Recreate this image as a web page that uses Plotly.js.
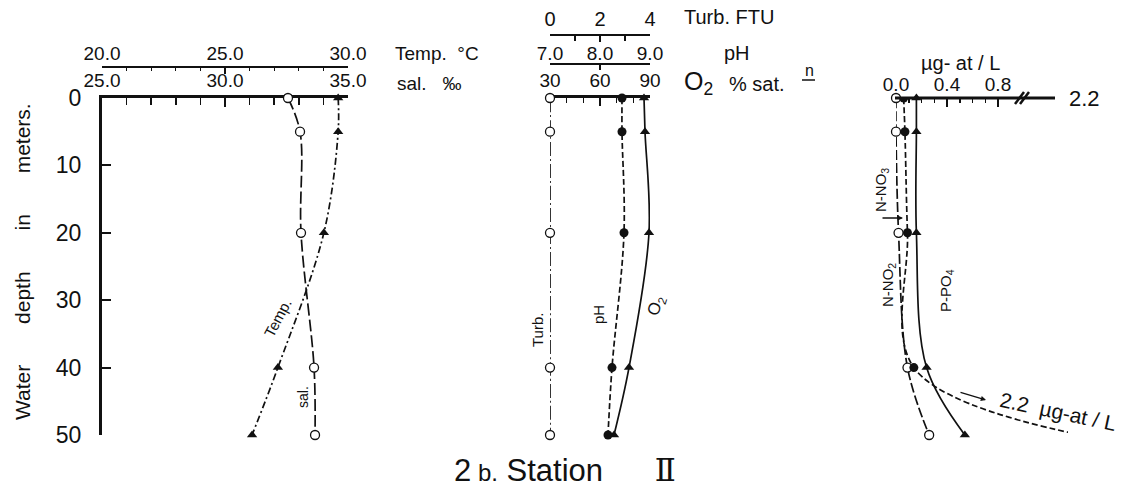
<!DOCTYPE html>
<html><head><meta charset="utf-8">
<script src="https://cdn.plot.ly/plotly-3.0.1.min.js"></script>
<style>html,body{margin:0;padding:0;background:#fff}</style>
</head><body><div id="chart" style="width:1136px;height:492px"></div>
<script>
// ---- data ----
const depth = [0, 5, 20, 40, 50];
const depthTicks = [0, 10, 20, 30, 40, 50];
const salinity = [32.56, 33.05, 33.09, 33.62, 33.66];      // open circles, ‰
const temperature = [29.6, 29.6, 29.02, 27.15, 26.1];      // triangles, °C
const turbidity = [0, 0, 0, 0, 0];                          // open circles, FTU
const pH = [8.44, 8.44, 8.48, 8.24, 8.16];                  // filled dots
const oxygenSat = [86.4, 87.0, 89.4, 77.4, 68.4];           // triangles, % sat.
const nitrite = [0.0, 0.0, 0.02, 0.09, 0.26];               // N-NO2, open circles
const nitrate = [0.06, 0.07, 0.09, 0.14, 2.2];              // N-NO3, filled dots
const phosphate = [0.16, 0.16, 0.16, 0.24, 0.54];           // P-PO4, triangles
const salTicks = [25, 30, 35];
const tempTicks = [20, 25, 30];
const turbTicks = [0, 2, 4];
const pHTicks = [7, 8, 9];
const o2Ticks = [30, 60, 90];
const nutTicks = [0, 0.4, 0.8];

// broken nutrient axis: values above 1.0 are compressed beyond the break
const BREAK = 1.0, BREAK_K = 0.375;
const brk = v => v <= BREAK ? v : BREAK + (v - BREAK) * BREAK_K;

const W = 1136, H = 492;
const fx = p => p / W, fy = p => 1 - p / H;
const INK = '#111';
const FONT = 'Liberation Sans, Arial, sans-serif';
const AX = 98;

const openM = {symbol: 'circle', size: 9, color: '#fff', line: {color: INK, width: 1.3}};
const dotM = {symbol: 'circle', size: 9, color: INK, line: {width: 0}};
const triM = {symbol: 'triangle-up', size: 9, color: INK, line: {width: 0}};

function tr(x, xa, marker, dash, extra) {
  return Object.assign({
    type: 'scatter', mode: 'lines+markers', x: x, y: depth, xaxis: xa, yaxis: 'y',
    marker: marker, line: {color: INK, width: 1.7, dash: dash, shape: 'spline', smoothing: 1},
    cliponaxis: false, hoverinfo: 'skip'
  }, extra || {});
}

const traces = [
  tr(salinity, 'x', openM, '12px,4px'),
  tr(temperature, 'x2', triM, '7px,3px,2px,3px'),
  tr(turbidity, 'x5', openM, '14px,3px,2px,3px'),
  tr(pH, 'x4', dotM, '6px,3px'),
  tr(oxygenSat, 'x3', triM, 'solid'),
  tr(nitrite, 'x6', openM, '10px,3px'),
  tr(nitrate.map(brk), 'x6', dotM, '6px,3px', {cliponaxis: true}),
  tr(phosphate, 'x6', triM, 'solid')
];

const base = {showgrid: false, zeroline: false, fixedrange: true, color: INK,
  tickcolor: INK, linecolor: INK, tickfont: {family: FONT, size: 19, color: INK}};

const d1 = [fx(102), fx(348)], d2 = [fx(550), fx(650)], d3 = [fx(896), fx(1068)];

const layout = {
  width: W, height: H, margin: {l: 0, r: 0, t: 0, b: 0},
  paper_bgcolor: '#fff', plot_bgcolor: 'rgba(0,0,0,0)', showlegend: false,
  font: {family: FONT, color: INK},
  yaxis: Object.assign({}, base, {domain: [fy(435), fy(AX)], range: [50, 0], anchor: 'x',
    showline: true, linewidth: 3, ticks: 'inside', ticklen: 9, tickwidth: 2,
    tickmode: 'array', tickvals: depthTicks, tickfont: {family: FONT, size: 23, color: INK},
    ticklabelstandoff: 13, layer: 'below traces'}),
  xaxis: Object.assign({}, base, {domain: d1, range: [25, 35], anchor: 'y', side: 'top',
    showline: true, linewidth: 3, ticks: 'inside', ticklen: 9, tickwidth: 2,
    tickmode: 'array', tickvals: salTicks, tickformat: '.1f',
    minor: {dtick: 1, tick0: 25, ticks: 'inside', ticklen: 7, tickwidth: 1.5, tickcolor: INK},
    layer: 'below traces'}),
  xaxis2: Object.assign({}, base, {domain: d1, range: [20, 30], overlaying: 'x', anchor: 'free',
    position: fy(67), side: 'top', showline: true, linewidth: 2, ticks: 'inside', ticklen: 6, tickwidth: 1.5,
    tickmode: 'array', tickvals: tempTicks, tickformat: '.1f', ticklabelstandoff: -2,
    minor: {dtick: 1, tick0: 20, ticks: 'inside', ticklen: 3, tickwidth: 1, tickcolor: INK}}),
  xaxis3: Object.assign({}, base, {domain: d2, range: [30, 90], anchor: 'y', side: 'top',
    showline: true, linewidth: 3, ticks: 'inside', ticklen: 8, tickwidth: 2,
    tickmode: 'array', tickvals: o2Ticks,
    minor: {dtick: 10, tick0: 30, ticks: 'inside', ticklen: 5, tickwidth: 1.5, tickcolor: INK},
    layer: 'below traces'}),
  xaxis4: Object.assign({}, base, {domain: d2, range: [7, 9], overlaying: 'x3', anchor: 'free',
    position: fy(64), side: 'top', showline: true, linewidth: 2, ticks: 'inside', ticklen: 5, tickwidth: 1.5,
    tickmode: 'array', tickvals: pHTicks, tickformat: '.1f', ticklabelstandoff: -5}),
  xaxis5: Object.assign({}, base, {domain: d2, range: [0, 4], overlaying: 'x3', anchor: 'free',
    position: fy(35), side: 'top', showline: true, linewidth: 2, ticks: 'inside', ticklen: 6, tickwidth: 1.5,
    tickmode: 'array', tickvals: turbTicks, tickfont: {family: FONT, size: 20, color: INK},
    minor: {dtick: 1, tick0: 0, ticks: 'inside', ticklen: 5, tickwidth: 1.5, tickcolor: INK}}),
  xaxis6: Object.assign({}, base, {domain: d3, range: [0, 172 / 127.5], anchor: 'y', side: 'top',
    showline: false, ticks: 'inside', ticklen: 9, tickwidth: 2,
    tickmode: 'array', tickvals: nutTicks, tickformat: '.1f', ticklabelstandoff: 2,
    minor: {tickmode: 'array', tickvals: [0.1, 0.2, 0.3, 0.5, 0.6, 0.7], ticks: 'inside', ticklen: 5, tickwidth: 1.5, tickcolor: INK}}),
  shapes: [
    {type: 'line', xref: 'paper', yref: 'paper', x0: fx(895), x1: fx(1055), y0: fy(AX), y1: fy(AX), line: {color: INK, width: 3}},
    {type: 'line', xref: 'paper', yref: 'paper', x0: fx(1015), x1: fx(1024), y0: fy(104), y1: fy(92), line: {color: INK, width: 2.5}},
    {type: 'line', xref: 'paper', yref: 'paper', x0: fx(1020), x1: fx(1029), y0: fy(104), y1: fy(92), line: {color: INK, width: 2.5}},
    {type: 'line', xref: 'paper', yref: 'paper', x0: fx(802), x1: fx(815), y0: fy(80), y1: fy(80), line: {color: INK, width: 1.5}}
  ],
  annotations: []
};

function ann(text, x, y, opts) {
  layout.annotations.push(Object.assign({
    text: text, x: fx(x), y: fy(y), xref: 'paper', yref: 'paper', showarrow: false,
    xanchor: 'center', yanchor: 'middle', font: {family: FONT, size: 19, color: INK}
  }, opts || {}));
}
const NB = '\u00a0';
const sp = n => NB.repeat(n);
// headers
ann('Temp.' + sp(2) + '°C', 393, 54, {xanchor: 'left'});
ann('sal.' + sp(3) + '‰', 395, 83, {xanchor: 'left'});
ann('Turb.' + NB + 'FTU', 682, 17, {xanchor: 'left', font: {family: FONT, size: 20, color: INK}});
ann('pH', 722, 53, {xanchor: 'left', font: {family: FONT, size: 20, color: INK}});
ann('O<sub>2</sub>', 682, 83, {xanchor: 'left', font: {family: FONT, size: 25, color: INK}});
ann('%' + NB + 'sat.', 727, 84, {xanchor: 'left', font: {family: FONT, size: 20, color: INK}});
ann('n', 809, 70, {font: {family: FONT, size: 16, color: INK}});
ann('µg-' + NB + 'at' + NB + '/' + NB + 'L', 960, 63, {font: {family: FONT, size: 20, color: INK}});
ann('2.2', 1067, 99, {xanchor: 'left', font: {family: FONT, size: 22, color: INK}});
// curve labels
ann('Temp.', 277, 318, {textangle: -62, font: {family: FONT, size: 15, color: INK}});
ann('sal.', 303, 397, {textangle: -90, font: {family: FONT, size: 14, color: INK}});
ann('Turb.', 537, 330, {textangle: -90, font: {family: FONT, size: 15, color: INK}});
ann('pH', 598, 315, {textangle: -90, font: {family: FONT, size: 15, color: INK}});
ann('O<sub>2</sub>', 657, 306, {textangle: -72, font: {family: FONT, size: 17, color: INK}});
ann('N-NO<sub>3</sub>', 881, 190, {textangle: -90, font: {family: FONT, size: 15, color: INK}});
ann('N-NO<sub>2</sub>', 888, 285, {textangle: -90, font: {family: FONT, size: 15, color: INK}});
ann('P-PO<sub>4</sub>', 946, 290, {textangle: -90, font: {family: FONT, size: 15, color: INK}});
ann('2.2' + sp(2) + 'µg-at' + NB + '/' + NB + 'L', 1058, 411, {textangle: 12, font: {family: FONT, size: 21, color: INK}});
// arrows
layout.annotations.push({text: '', x: fx(903), y: fy(218), xref: 'paper', yref: 'paper', ax: -22, ay: 0,
  showarrow: true, arrowhead: 2, arrowsize: 0.8, arrowwidth: 1.3, arrowcolor: INK});
layout.annotations.push({text: '', x: fx(986), y: fy(400), xref: 'paper', yref: 'paper', ax: -27, ay: -8,
  showarrow: true, arrowhead: 2, arrowsize: 0.8, arrowwidth: 1.3, arrowcolor: INK});
// axis title and figure title
ann('Water' + sp(7) + 'depth' + sp(7) + 'in' + sp(7) + 'meters.', 22, 262, {textangle: -90, font: {family: FONT, size: 21, color: INK}});
ann('2<span style="font-size:24px">' + NB + 'b.</span>' + NB + 'Station' + sp(6) +
    '<span style="font-family:\'DejaVu Serif\',\'Liberation Serif\',serif">Ⅱ</span>', 565, 470,
    {font: {family: FONT, size: 31, color: INK}});

Plotly.newPlot('chart', traces, layout, {staticPlot: true, displayModeBar: false});
</script>
</body></html>
